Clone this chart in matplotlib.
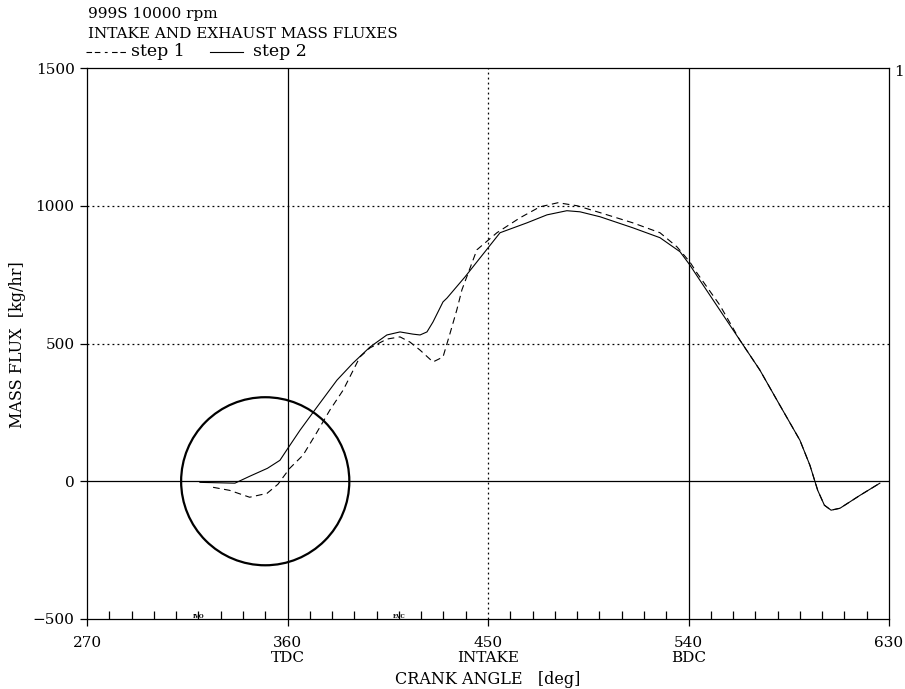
import matplotlib
matplotlib.use("Agg")
import matplotlib.pyplot as plt
from matplotlib.patches import Ellipse
from matplotlib.lines import Line2D

plt.rcParams['font.family'] = ['DejaVu Serif', 'Liberation Serif']

# step 2 (solid) : crank angle [deg], mass flux [kg/hr]
step2_deg = [320.7, 336.4, 343, 351, 356.6, 360.2, 365.6, 373.2, 382.2, 389.4, 397,
             404.6, 410.5, 416.3, 419.5, 422.6, 425.3, 429.8, 431.6, 439.7, 450,
             455.4, 467.5, 476.5, 485.4, 491.3, 500.3, 515, 527.2, 536.2, 540.6,
             545, 554, 563, 572, 581, 590, 594.5, 598, 601, 604, 608, 617, 625.9]
step2_flux = [-4, -7, 18, 47, 76, 120, 185, 269, 367, 429, 487,
              531, 542, 534, 531, 542, 578, 651, 665, 742, 847,
              902, 938, 967, 982, 978, 960, 920, 884, 833, 785,
              731, 622, 513, 404, 276, 149, 58, -33, -87, -105, -98, -51, -7]

# step 1 (dashed)
step1_deg = [326.6, 334, 343, 350.8, 355.7, 361, 367, 373, 379, 385, 392.5, 397,
             404.6, 410.5, 415, 419.5, 425.3, 429.8, 433, 436, 438.3, 445, 454,
             464.3, 473.3, 481.4, 490, 500.3, 515, 527.2, 534.8, 540.6, 543.8,
             554, 563, 572, 581, 590, 594.5, 598, 601, 604, 608, 617, 625.9]
step1_flux = [-22, -33, -58, -44, -11, 47, 95, 175, 258, 331, 451, 484,
              516, 524, 505, 476, 433, 451, 538, 622, 695, 840, 902,
              956, 996, 1011, 1000, 975, 938, 902, 851, 796, 756,
              640, 513, 404, 276, 149, 58, -33, -87, -105, -98, -51, -7]

x_ticks = [270, 360, 450, 540, 630]
x_tick_labels = ["270", "360\nTDC", "450\nINTAKE", "540\nBDC", "630"]
y_ticks = [-500, 0, 500, 1000, 1500]

W, H = 905, 689
fig = plt.figure(figsize=(W / 100, H / 100), dpi=100)
ax = fig.add_axes([87/W, 1-619/H, (889-87)/W, (619-68)/H])
ax.set_xlim(270, 630)
ax.set_ylim(-500, 1500)

# reference lines
dotted = (0, (1.5, 2.5))
ax.axvline(360, color='black', lw=0.9)
ax.axvline(540, color='black', lw=0.9)
ax.axvline(450, color='black', lw=0.9, ls=dotted)
ax.axhline(0, color='black', lw=0.9)
ax.axhline(500, color='black', lw=0.9, ls=dotted)
ax.axhline(1000, color='black', lw=0.9, ls=dotted)

ax.plot(step1_deg, step1_flux, color='black', lw=0.8, ls=(0, (6, 4)))
ax.plot(step2_deg, step2_flux, color='black', lw=0.8)

# highlight circle around TDC
ax.add_patch(Ellipse((350, 0), 75.5, 610, fill=False, lw=1.6, color='black'))

ax.set_xticks(x_ticks)
ax.set_xticklabels(x_tick_labels, fontsize=11, linespacing=1.15)
ax.set_xticks(range(280, 630, 10), minor=True)
ax.tick_params(axis='x', which='major', direction='out', length=5, width=0.9, pad=7)
ax.tick_params(axis='x', which='minor', direction='in', length=6, width=0.9)
ax.set_yticks(y_ticks)
ax.set_yticklabels([f"{v}".replace("-", "\u2212") for v in y_ticks], fontsize=11)
ax.tick_params(axis='y', direction='out', length=5, width=0.9, pad=4)
for s in ax.spines.values():
    s.set_linewidth(0.9)

# axis titles
fig.text(488/W, 1-680/H, "CRANK ANGLE   [deg]", fontsize=11.5, ha='center', va='center')
fig.text(17/W, 1-345/H, "MASS FLUX  [kg/hr]", fontsize=11.5, ha='center', va='center',
         rotation=90)

# valve event markers
ax.text(320, -500, "IVO", fontsize=4, ha='center', va='bottom', fontweight='bold')
ax.text(410, -500, "EVC", fontsize=4, ha='center', va='bottom', fontweight='bold')

# header texts
fig.text(88/W, 1-14/H, "999S 10000 rpm", fontsize=11, va='center')
fig.text(88/W, 1-34/H, "INTAKE AND EXHAUST MASS FLUXES", fontsize=11, va='center')
fig.add_artist(Line2D([86/W, 127/W], [1-52/H]*2, color='black', lw=0.8,
                      ls=(0, (5, 2.5, 5, 4, 2.5, 4))))
fig.text(131/W, 1-52/H, "step 1", fontsize=12.5, va='center')
fig.add_artist(Line2D([210/W, 243/W], [1-52/H]*2, color='black', lw=0.8))
fig.text(253/W, 1-52/H, "step 2", fontsize=12.5, va='center')
fig.text(894/W, 1-72/H, "1", fontsize=11, va='center')

fig.savefig("out.png", dpi=100)
